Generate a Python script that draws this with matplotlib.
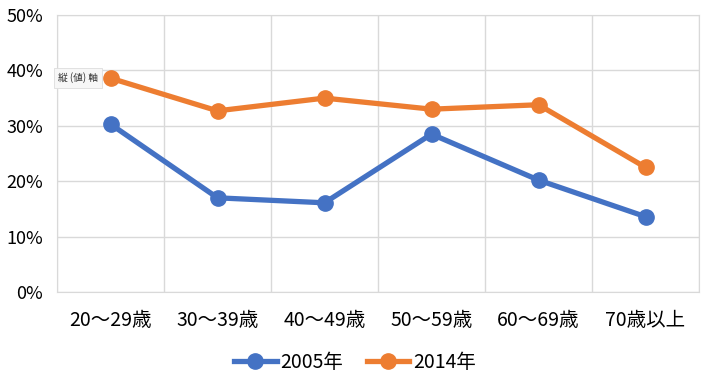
import matplotlib
matplotlib.use("Agg")
import matplotlib.pyplot as plt
from matplotlib.ticker import FuncFormatter

plt.rcParams['font.family'] = ['Noto Sans CJK JP', 'DejaVu Sans']

# データ
categories = ["20～29歳", "30～39歳", "40～49歳", "50～59歳", "60～69歳", "70歳以上"]
y2005 = [30.3, 17.0, 16.1, 28.5, 20.2, 13.6]
y2014 = [38.6, 32.7, 35.0, 33.0, 33.8, 22.5]

fig = plt.figure(figsize=(7.1, 3.87), dpi=100)
ax = fig.add_axes([57 / 710, 95 / 387, 642 / 710, 277 / 387])

x = range(len(categories))
ax.plot(x, y2005, color="#4472C4", lw=3.8, marker="o", ms=11, label="2005年", zorder=3)
ax.plot(x, y2014, color="#ED7D31", lw=3.8, marker="o", ms=11, label="2014年", zorder=3)

ax.set_xlim(-0.5, len(categories) - 0.5)
ax.set_ylim(0, 50)
ax.set_yticks(range(0, 51, 10))
ax.yaxis.set_major_formatter(FuncFormatter(lambda v, p: "%d%%" % v))
ax.set_xticks(list(x))
ax.set_xticklabels(categories)
# 縦グリッドは区切り位置
ax.set_xticks([i + 0.5 for i in range(-1, len(categories))], minor=True)
ax.grid(True, which="minor", axis="x", color="#D9D9D9", lw=1)
ax.grid(True, which="major", axis="y", color="#D9D9D9", lw=1)
ax.tick_params(which="both", length=0)
ax.tick_params(axis="x", pad=13, labelsize=14)
ax.tick_params(axis="y", pad=10, labelsize=13)
for s in ax.spines.values():
    s.set_color("#D9D9D9")

leg = fig.legend(loc="center", bbox_to_anchor=(0.5, 25 / 387), ncol=2, frameon=False,
                 fontsize=14, handlelength=2.2, handletextpad=0.2, columnspacing=1.2)

# ツールチップ
fig.text(78 / 710, 1 - 78 / 387, "縦 (値) 軸", fontsize=7, ha="center", va="center",
         color="#333333", zorder=10,
         bbox=dict(boxstyle="square,pad=0.45", fc="#F7F7F7", ec="#DDDDDD", lw=0.6))

fig.savefig("out.png", dpi=100)
